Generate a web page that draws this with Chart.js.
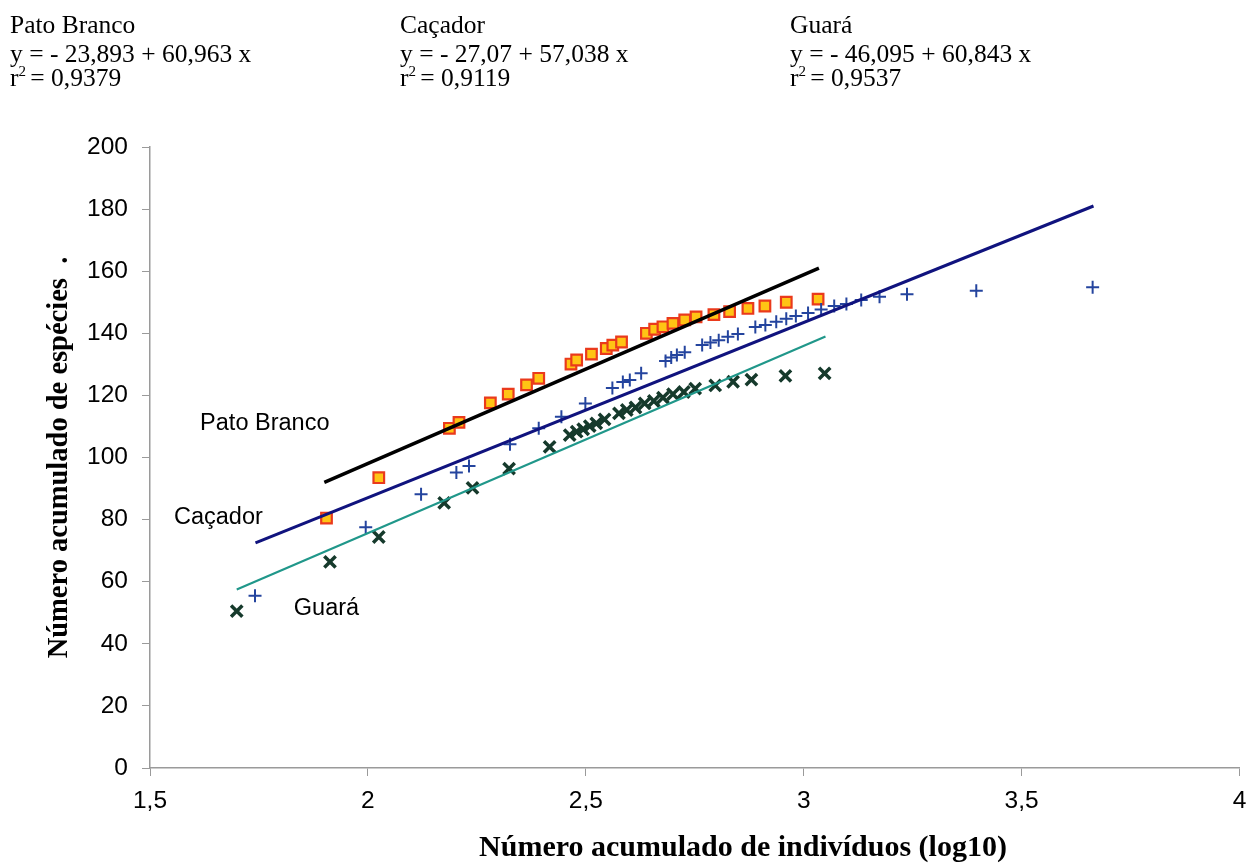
<!DOCTYPE html>
<html>
<head>
<meta charset="utf-8">
<script src="https://cdn.jsdelivr.net/npm/chart.js@4/dist/chart.umd.min.js"></script>
<style>
  html, body { margin: 0; padding: 0; background: #fff; }
  #wrap { width: 1251px; height: 866px; position: relative; }
</style>
</head>
<body>
<div id="wrap"><canvas id="speciesChart" width="1251" height="866"></canvas></div>
<script>
// x = log10 of cumulative individuals, y = cumulative species

const pbX = [1.905, 2.025, 2.187, 2.209, 2.281, 2.322, 2.364, 2.392, 2.466, 2.479, 2.513, 2.547, 2.562,
    2.582, 2.639, 2.658, 2.677, 2.700, 2.727, 2.753, 2.794, 2.830, 2.872, 2.911, 2.960, 3.033];
const pbY = [80.5, 93.5, 109.4, 111.3, 117.6, 120.4, 123.4, 125.5, 130.1, 131.4, 133.3, 135.1, 136.2,
    137.2, 140.0, 141.3, 142.1, 143.2, 144.3, 145.3, 146.0, 147.0, 148.0, 148.8, 150.0, 151.0];

const cacX = [1.741, 1.995, 2.122, 2.203, 2.232, 2.326, 2.392, 2.444, 2.499, 2.561, 2.585, 2.601, 2.627,
    2.683, 2.696, 2.709, 2.727, 2.767, 2.786, 2.805, 2.826, 2.849, 2.889, 2.912, 2.937, 2.960, 2.982,
    3.010, 3.040, 3.070, 3.098, 3.132, 3.174, 3.237, 3.396, 3.663];
const cacY = [55.5, 77.5, 88.2, 95.2, 97.3, 104.3, 109.4, 113.1, 117.4, 122.4, 124.3, 125.0, 127.1,
    131.1, 132.2, 133.0, 133.9, 136.2, 137.0, 137.8, 138.9, 139.8, 142.0, 142.7, 143.7, 144.7, 145.6,
    146.5, 147.7, 148.8, 149.4, 150.7, 151.8, 152.6, 153.7, 154.8];

const guaX = [1.699, 1.913, 2.025, 2.175, 2.240, 2.324, 2.417, 2.463, 2.479, 2.494, 2.509, 2.524, 2.543,
    2.576, 2.594, 2.614, 2.635, 2.656, 2.677, 2.700, 2.725, 2.751, 2.797, 2.838, 2.880, 2.958, 3.048];
const guaY = [50.5, 66.4, 74.4, 85.4, 90.2, 96.4, 103.4, 107.2, 108.3, 109.1, 110.1, 111.0, 112.3,
    114.2, 115.3, 116.1, 117.4, 118.2, 119.3, 120.4, 121.1, 122.2, 123.2, 124.4, 125.1, 126.3, 127.1];

// fitted lines, end points
const pbLineX = [1.90, 3.035];
const pbLineY = [92, 161];
const cacLineX = [1.742, 3.665];
const cacLineY = [72.5, 181];
const guaLineX = [1.699, 3.05];
const guaLineY = [57.5, 139];

const xTicks = [1.5, 2, 2.5, 3, 3.5, 4];
const yTicks = [0, 20, 40, 60, 80, 100, 120, 140, 160, 180, 200];

const equations = [
    { site: 'Pato Branco', eq: 'y = - 23,893 + 60,963 x', r2: '0,9379' },
    { site: 'Caçador', eq: 'y = - 27,07 + 57,038 x', r2: '0,9119' },
    { site: 'Guará', eq: 'y = - 46,095 + 60,843 x', r2: '0,9537' }
];
const siteLabels = [
    { text: 'Pato Branco', x: 1.615, y: 111 },
    { text: 'Caçador', x: 1.555, y: 80.8 },
    { text: 'Guará', x: 1.83, y: 51.5 }
];
const xTitle = 'Número acumulado de indivíduos (log10)';

const toPoints = (xs, ys) => xs.map((x, i) => ({ x: x, y: ys[i] }));
const fmt = v => String(v).replace('.', ',');

const serif = '"Liberation Serif", "Times New Roman", serif';
const sans = '"Liberation Sans", Arial, sans-serif';

const textPlugin = {
    id: 'texts',
    afterDatasetsDraw(chart) {
        const ctx = chart.ctx;
        const xs = chart.scales.x, ys = chart.scales.y;
        ctx.save();
        ctx.fillStyle = '#000';
        ctx.textBaseline = 'alphabetic';
        ctx.textAlign = 'left';

        // equations above the plot
        const cols = [10, 400, 790];
        equations.forEach((e, i) => {
            const x0 = cols[i];
            ctx.font = '25.5px ' + serif;
            ctx.fillText(e.site, x0, 33);
            ctx.fillText(e.eq, x0, 62);
            ctx.fillText('r', x0, 86);
            const rw = ctx.measureText('r').width;
            ctx.font = '15px ' + serif;
            ctx.fillText('2', x0 + rw, 76);
            const sw = ctx.measureText('2').width;
            ctx.font = '25.5px ' + serif;
            ctx.fillText(' = ' + e.r2, x0 + rw + sw - 2, 86);
        });

        // site names inside the plot
        ctx.font = '23.5px ' + sans;
        ctx.textBaseline = 'middle';
        siteLabels.forEach(l => {
            ctx.fillText(l.text, xs.getPixelForValue(l.x), ys.getPixelForValue(l.y));
        });

        // x axis title (sits a bit right of the plot centre in the original)
        ctx.font = 'bold 30px ' + serif;
        ctx.textAlign = 'center';
        ctx.fillText(xTitle, 743, 848);
        ctx.restore();
    }
};

const ctx = document.getElementById('speciesChart').getContext('2d');
new Chart(ctx, {
    type: 'scatter',
    data: {
        datasets: [
            {
                label: 'Pato Branco (reta)',
                data: toPoints(pbLineX, pbLineY),
                showLine: true,
                borderColor: '#000000',
                borderWidth: 3.5,
                pointRadius: 0
            },
            {
                label: 'Caçador (reta)',
                data: toPoints(cacLineX, cacLineY),
                showLine: true,
                borderColor: '#10137e',
                borderWidth: 3,
                pointRadius: 0
            },
            {
                label: 'Guará (reta)',
                data: toPoints(guaLineX, guaLineY),
                showLine: true,
                borderColor: '#20978a',
                borderWidth: 2.2,
                pointRadius: 0
            },
            {
                label: 'Guará',
                data: toPoints(guaX, guaY),
                pointStyle: 'crossRot',
                pointRadius: 8,
                borderColor: '#163a2c',
                borderWidth: 3.5
            },
            {
                label: 'Caçador',
                data: toPoints(cacX, cacY),
                pointStyle: 'cross',
                pointRadius: 6.5,
                borderColor: '#24449e',
                borderWidth: 2
            },
            {
                label: 'Pato Branco',
                data: toPoints(pbX, pbY),
                pointStyle: 'rect',
                pointRadius: 7.5,
                backgroundColor: '#ffc414',
                borderColor: '#ea3a1c',
                borderWidth: 2.2
            }
        ]
    },
    options: {
        responsive: false,
        animation: false,
        layout: { padding: { top: 147, right: 11, bottom: 0, left: 41 } },
        plugins: {
            legend: { display: false },
            tooltip: { enabled: false }
        },
        scales: {
            x: {
                type: 'linear',
                min: 1.5,
                max: 4,
                afterBuildTicks: s => { s.ticks = xTicks.map(v => ({ value: v })); },
                afterFit: s => { s.height = 98; s.paddingLeft = 0; s.paddingRight = 0; },
                border: { color: '#9a9a9a', width: 1.5 },
                grid: { drawOnChartArea: false, drawTicks: true, tickLength: 8, color: '#9a9a9a' },
                ticks: {
                    color: '#000',
                    padding: 11,
                    font: { family: sans, size: 24.5 },
                    callback: v => fmt(v)
                },
                title: { display: false }
            },
            y: {
                type: 'linear',
                min: 0,
                max: 200,
                afterBuildTicks: s => { s.ticks = yTicks.map(v => ({ value: v })); },
                afterFit: s => { s.width = 109; },
                border: { color: '#9a9a9a', width: 1.5 },
                grid: { drawOnChartArea: false, drawTicks: true, tickLength: 8, color: '#9a9a9a' },
                ticks: {
                    color: '#000',
                    padding: 14,
                    font: { family: sans, size: 24.5 }
                },
                title: {
                    display: true,
                    text: 'Número acumulado de espécies  .',
                    color: '#000',
                    padding: { top: 2, bottom: 0 },
                    font: { family: serif, size: 28.5, weight: 'bold' }
                }
            }
        }
    },
    plugins: [textPlugin]
});
</script>
</body>
</html>
